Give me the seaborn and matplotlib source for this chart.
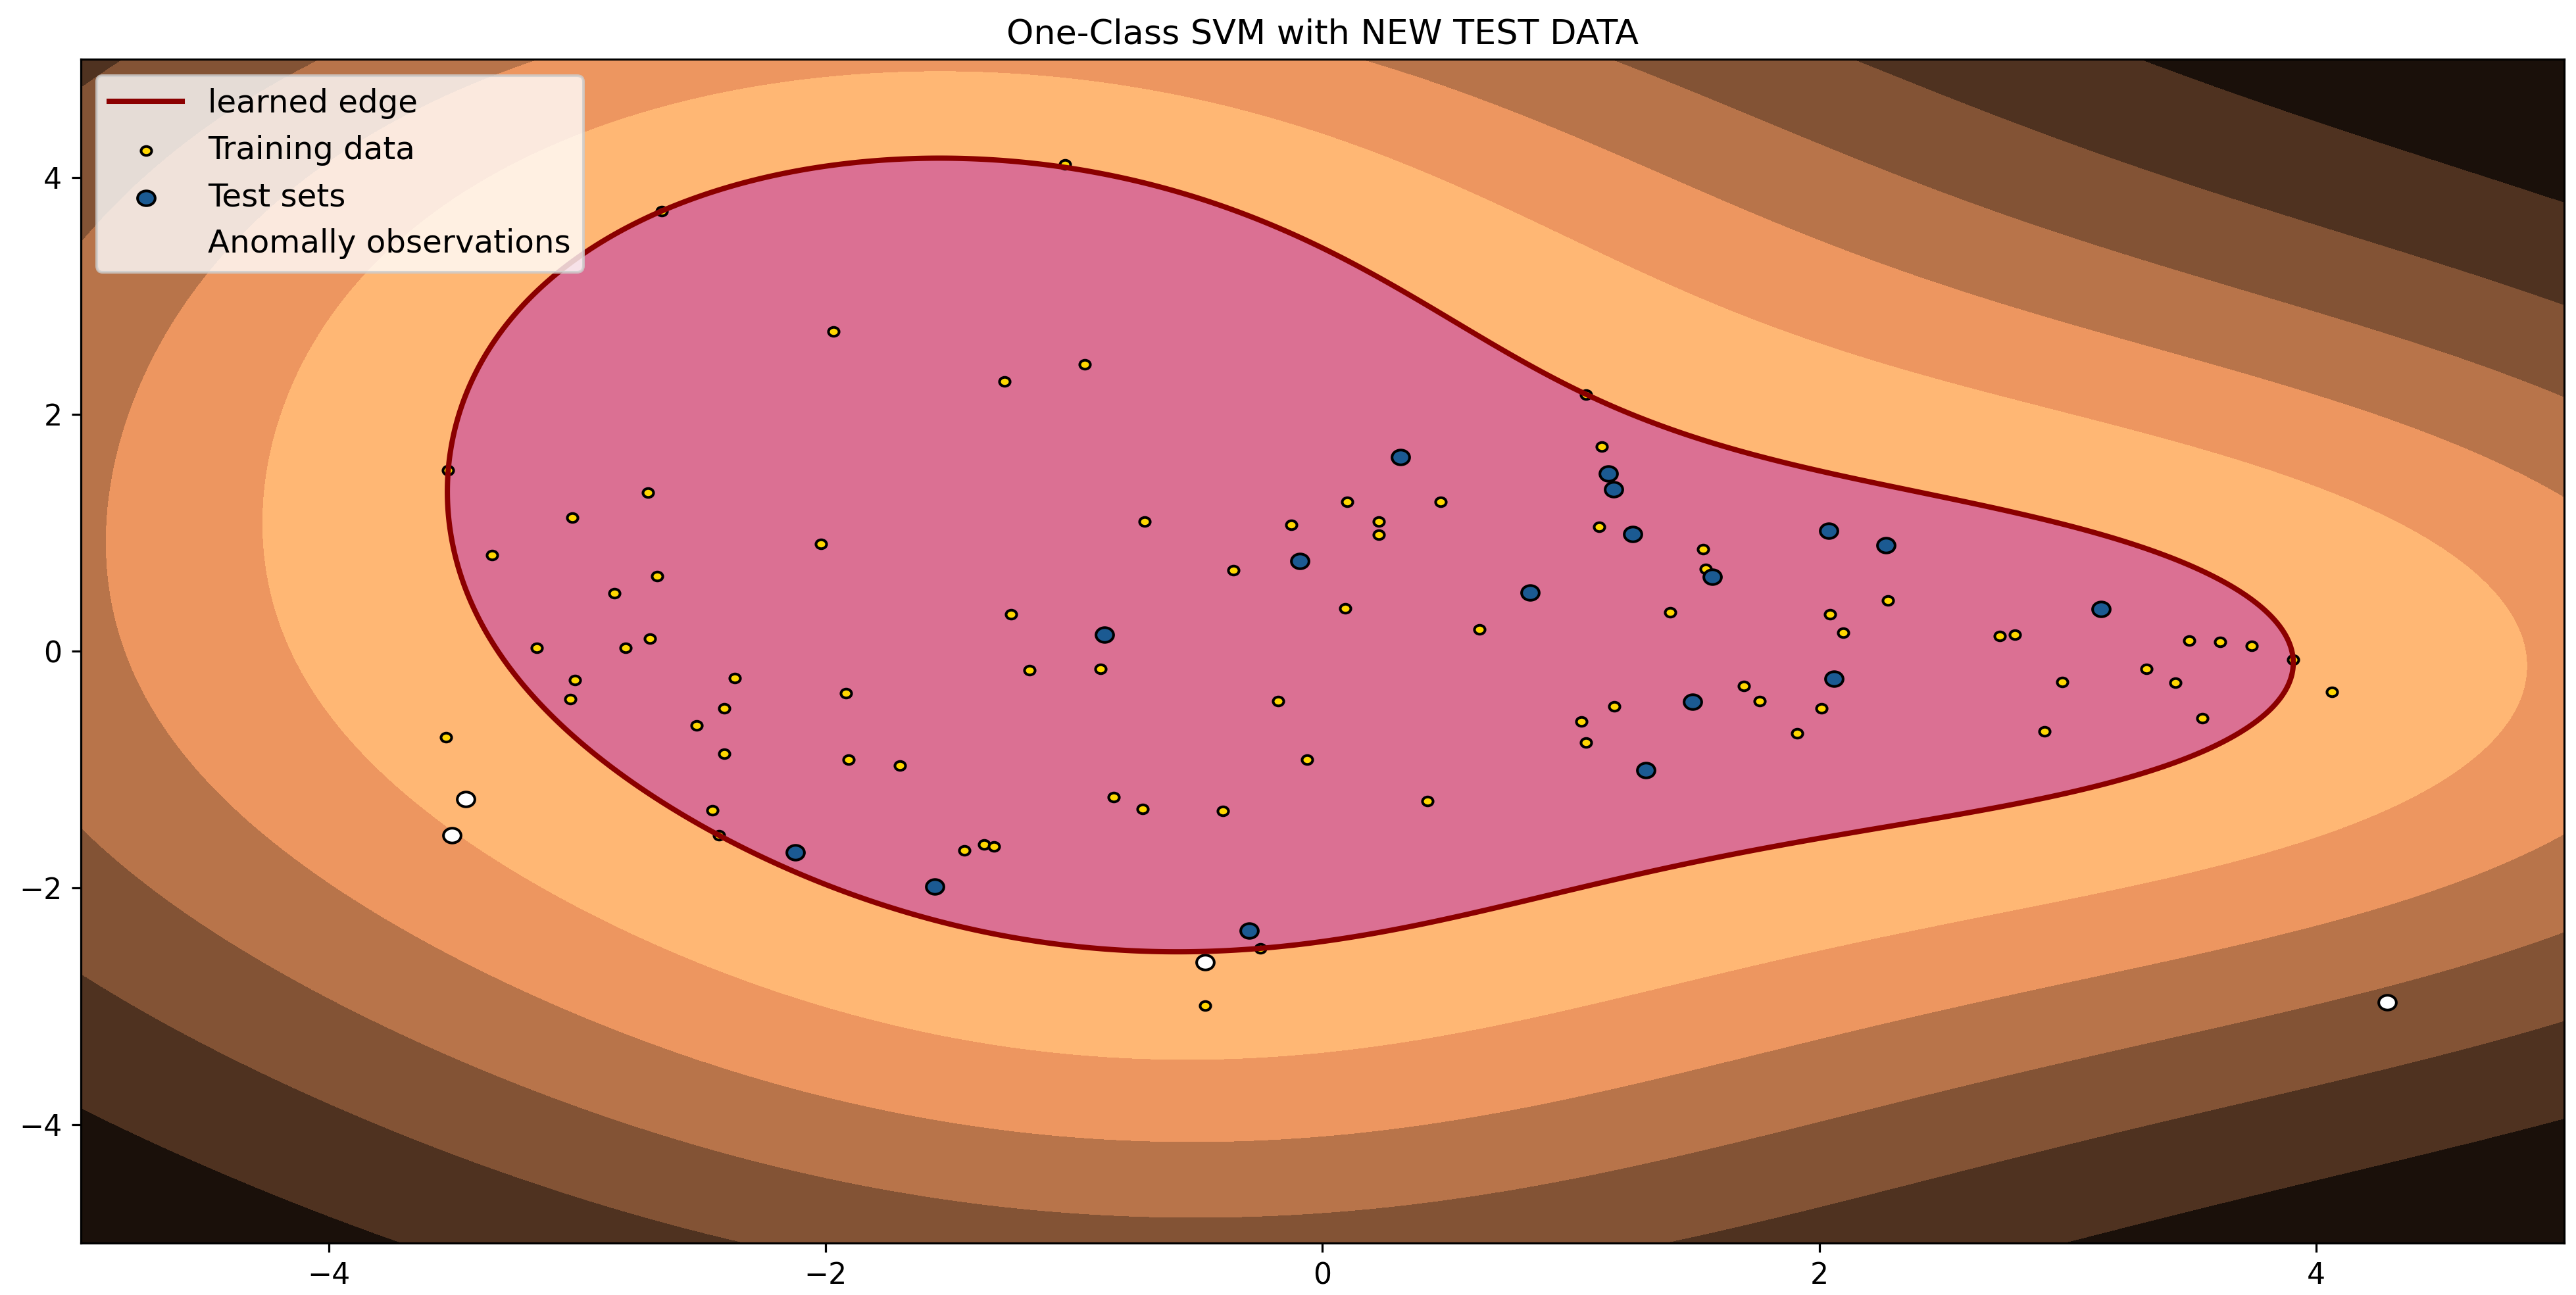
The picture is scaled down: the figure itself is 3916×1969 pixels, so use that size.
import numpy as np
import matplotlib
matplotlib.use("Agg")
import matplotlib.pyplot as plt
from matplotlib.lines import Line2D
from matplotlib.path import Path
from matplotlib.transforms import Affine2D
import seaborn as sns

# points
train_x = [-2.66, -1.97, -3.52, -2.715, -3.02, -3.343, -2.019, -2.68, -2.85, -3.163,
           -2.807, -2.708, -3.011, -3.029, -2.366, -1.918, -2.41, -2.519, -3.53, -2.41,
           -1.909, -1.702, -2.456, -2.429, -1.038, -0.957, -1.28, 1.061, 1.125, 0.099,
           0.476, -0.716, -0.125, 0.227, 0.227, 1.113, 1.533, 1.543, -0.358, 0.092,
           1.40, -1.254, 0.633, 2.277, 2.043, 2.097, 2.726, 2.788, 3.49, 3.615,
           3.741, 3.908, 4.064, 1.697, 1.759, 2.010, 1.91, 2.977, 2.906, 3.317,
           3.435, 3.542, -1.181, -0.894, -0.178, 1.041, 1.175, 1.061, -0.061, 0.422,
           -0.841, -0.725, -0.402, -1.443, -1.363, -1.324, -0.25, -0.474]
train_y = [3.72, 2.70, 1.53, 1.34, 1.13, 0.81, 0.905, 0.637, 0.49, 0.027,
           0.027, 0.105, -0.242, -0.404, -0.227, -0.357, -0.484, -0.628, -0.725, -0.866,
           -0.917, -0.964, -1.346, -1.556, 4.113, 2.426, 2.28, 2.171, 1.728, 1.26,
           1.26, 1.097, 1.069, 1.097, 0.984, 1.05, 0.86, 0.696, 0.683, 0.364,
           0.328, 0.31, 0.187, 0.428, 0.314, 0.158, 0.127, 0.141, 0.091, 0.077,
           0.045, -0.072, -0.343, -0.292, -0.422, -0.484, -0.694, -0.26, -0.679, -0.148,
           -0.264, -0.563, -0.162, -0.148, -0.422, -0.596, -0.466, -0.773, -0.917, -1.267,
           -1.235, -1.332, -1.347, -1.682, -1.635, -1.65, -2.51, -2.993]

test_x = [-2.122, -1.561, -0.294, -0.878, -0.09, 0.314, 0.835, 1.151, 1.173, 1.248,
          1.57, 1.491, 1.302, 2.059, 2.039, 2.268, 3.135]
test_y = [-1.70, -1.989, -2.361, 0.14, 0.761, 1.639, 0.497, 1.50, 1.366, 0.992,
          0.631, -0.429, -1.004, -0.234, 1.019, 0.895, 0.357]

anom_x = [-3.45, -3.505, -0.474, 4.286]
anom_y = [-1.249, -1.556, -2.628, -2.964]

nu = 0.1
gamma = 0.085

# one-class svm (rbf), dual solved with projected gradient
X = np.column_stack([train_x, train_y])
n = len(X)
K = np.exp(-gamma * ((X[:, None, :] - X[None, :, :]) ** 2).sum(-1))
total = nu * n


def project(v):
    lo, hi = v.min() - 1.0, v.max()
    for _ in range(60):
        tau = (lo + hi) / 2
        if np.clip(v - tau, 0, 1).sum() > total:
            lo = tau
        else:
            hi = tau
    return np.clip(v - (lo + hi) / 2, 0, 1)


L = np.linalg.eigvalsh(K).max()
a = np.full(n, total / n)
yk = a.copy()
t = 1.0
for _ in range(3000):
    a_new = project(yk - K @ yk / L)
    t_new = (1 + np.sqrt(1 + 4 * t * t)) / 2
    yk = a_new + (t - 1) / t_new * (a_new - a)
    a, t = a_new, t_new

g = K @ a
free = (a > 1e-3) & (a < 1 - 1e-3)
if free.any():
    rho = g[free].mean()
else:
    rho = (g[a > 1e-3].max() + g[a < 1 - 1e-3].min()) / 2

xx, yy = np.meshgrid(np.linspace(-5, 5, 500), np.linspace(-5, 5, 500))
Z = -rho * np.ones_like(xx)
for i in np.where(a > 1e-8)[0]:
    Z += a[i] * np.exp(-gamma * ((xx - X[i, 0]) ** 2 + (yy - X[i, 1]) ** 2))

# the reference is a bit wider than tall, so the dots are slightly oval
oval = Path.unit_circle().transformed(Affine2D().scale(1.0, 0.84))

fig, ax = plt.subplots(figsize=(3916 / 290, 1969 / 290), dpi=290)
fig.subplots_adjust(left=0.0313, right=0.9955, bottom=0.0401, top=0.9541)

ax.contourf(xx, yy, Z, levels=np.linspace(Z.min(), 0, 7), cmap=plt.cm.copper)
ax.contourf(xx, yy, Z, levels=[0, Z.max()], colors="palevioletred")
ax.contour(xx, yy, Z, levels=[0], linewidths=2, colors="darkred", zorder=4)

sns.scatterplot(x=train_x, y=train_y, color="gold", s=16, marker=oval,
                edgecolor="k", linewidth=1, ax=ax, legend=False, zorder=3)
h_train = ax.collections[-1]
sns.scatterplot(x=test_x, y=test_y, color="#1b5a92", s=44, marker=oval,
                edgecolor="k", linewidth=1, ax=ax, legend=False, zorder=3)
h_test = ax.collections[-1]
sns.scatterplot(x=anom_x, y=anom_y, color="white", s=44, marker=oval,
                edgecolor="k", linewidth=1, ax=ax, legend=False, zorder=3)
h_anom = ax.collections[-1]

ax.set_xlim(-5, 5)
ax.set_ylim(-5, 5)
ax.set_xticks([-4, -2, 0, 2, 4])
ax.set_yticks([-4, -2, 0, 2, 4])
ax.tick_params(labelsize=11)
ax.set_title("One-Class SVM with NEW TEST DATA", fontsize=13)

edge = Line2D([], [], color="darkred", lw=2)
leg = ax.legend([edge, h_train, h_test, h_anom],
                ["learned edge", "Training data", "Test sets", "Anomally observations"],
                loc="upper left", fontsize=12, handlelength=2.3)
leg.legend_handles[3].set_visible(False)

fig.savefig("out.png", dpi=290)
